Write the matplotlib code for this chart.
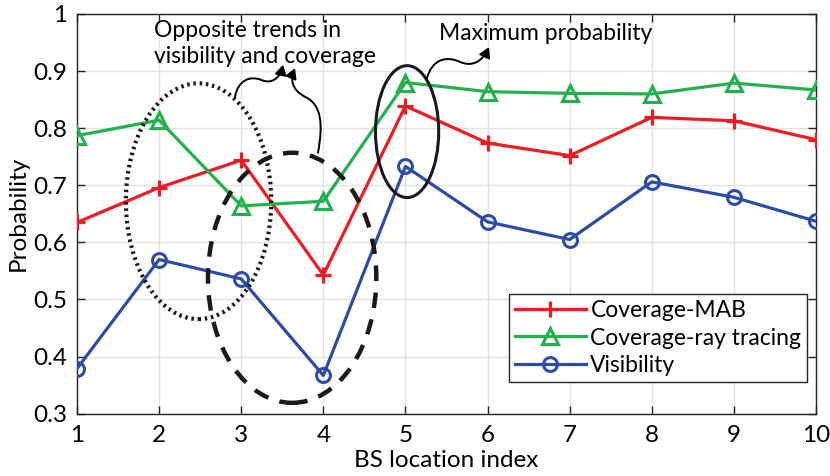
import matplotlib
matplotlib.use("Agg")
import matplotlib.pyplot as plt
from matplotlib.patches import Ellipse, FancyArrowPatch
from matplotlib.path import Path

plt.rcParams['font.family'] = ['Lato', 'DejaVu Sans']

# BS location index and the three probability curves
bs_index = [1, 2, 3, 4, 5, 6, 7, 8, 9, 10]
coverage_mab = [0.635, 0.696, 0.744, 0.543, 0.839, 0.774, 0.752, 0.819, 0.813, 0.780]
coverage_ray = [0.787, 0.814, 0.664, 0.672, 0.880, 0.864, 0.861, 0.860, 0.879, 0.867]
visibility = [0.379, 0.570, 0.536, 0.367, 0.733, 0.636, 0.605, 0.706, 0.679, 0.637]

y_ticks = [0.3, 0.4, 0.5, 0.6, 0.7, 0.8, 0.9, 1.0]
y_tick_labels = ['0.3', '0.4', '0.5', '0.6', '0.7', '0.8', '0.9', '1']

RED = '#EE1D23'
GREEN = '#22B14C'
BLUE = '#2C4CA8'
AXC = '#262626'

fig = plt.figure(figsize=(8.3, 4.76), dpi=100)
ax = fig.add_axes([0.0928, 0.1309, 0.8903, 0.8397])

ax.plot(bs_index, coverage_mab, color=RED, lw=2.3, marker='+', ms=12,
        mew=2.3, label='Coverage-MAB', zorder=5)
ax.plot(bs_index, coverage_ray, color=GREEN, lw=2.3, marker='^', ms=11,
        mfc='none', mew=2.2, label='Coverage-ray tracing', zorder=5)
ax.plot(bs_index, visibility, color=BLUE, lw=2.3, marker='o', ms=10,
        mfc='none', mew=2.2, label='Visibility', zorder=5)

ax.set_xlim(1, 10)
ax.set_ylim(0.3, 1.0)
ax.set_xticks(bs_index)
ax.set_yticks(y_ticks)
ax.set_yticklabels(y_tick_labels)
ax.grid(True, color='#E3E3E3', lw=1.0)
ax.set_axisbelow(True)
for s in ax.spines.values():
    s.set_color(AXC)
    s.set_linewidth(1.0)
ax.tick_params(direction='in', length=6, width=1.0, color=AXC,
               labelsize=17.5, top=True, right=True, pad=8, labelcolor='black')
ax.tick_params(axis='y', pad=7)
ax.set_xlabel('BS location index', fontsize=17.5, labelpad=3)
ax.set_ylabel('Probability', fontsize=17.5, labelpad=3)

leg = ax.legend(loc='lower right', bbox_to_anchor=(0.988, 0.079), fontsize=16.5,
                frameon=True, fancybox=False, edgecolor=AXC, framealpha=1,
                handlelength=3.1, handletextpad=0.2, borderpad=0.25,
                labelspacing=0.3, borderaxespad=0.0)
leg.get_frame().set_linewidth(1.0)

# Highlight ellipses
ax.add_patch(Ellipse((2.48, 0.672), 1.77, 0.413, fill=False, ec='#1a1a1a',
                     lw=3.0, ls=(0, (0.6, 0.9)), zorder=6))
ax.add_patch(Ellipse((3.62, 0.538), 2.05, 0.438, fill=False, ec='#1a1a1a',
                     lw=3.2, ls=(0, (3.5, 2.6)), zorder=6))
ax.add_patch(Ellipse((5.02, 0.794), 0.77, 0.231, fill=False, ec='#1a1a1a',
                     lw=2.2, zorder=6))

# Curly annotation arrows
C4 = Path.CURVE4
curls = [
    [(2.924, 0.855), (2.961, 0.884), (3.107, 0.893), (3.253, 0.884),
     (3.375, 0.877), (3.473, 0.888), (3.509, 0.911)],
    [(3.935, 0.757), (3.996, 0.806), (3.984, 0.841), (3.777, 0.855),
     (3.619, 0.867), (3.594, 0.884), (3.655, 0.905)],
    [(5.263, 0.888), (5.324, 0.919), (5.482, 0.928), (5.665, 0.916),
     (5.811, 0.907), (5.933, 0.916), (6.018, 0.942)],
]
for pts in curls:
    path = Path(pts, [Path.MOVETO, C4, C4, C4, C4, C4, C4])
    ax.add_patch(FancyArrowPatch(path=path, arrowstyle='-|>,head_length=6,head_width=3.5',
                                 color='black', lw=1.4, zorder=7))

ax.text(1.94, 0.99, 'Opposite trends in\nvisibility and coverage', fontsize=16.5,
        ha='left', va='top', linespacing=1.3, zorder=8)
ax.text(5.41, 0.985, 'Maximum probability', fontsize=16.5, ha='left', va='top', zorder=8)

fig.savefig('out.png', dpi=100)
